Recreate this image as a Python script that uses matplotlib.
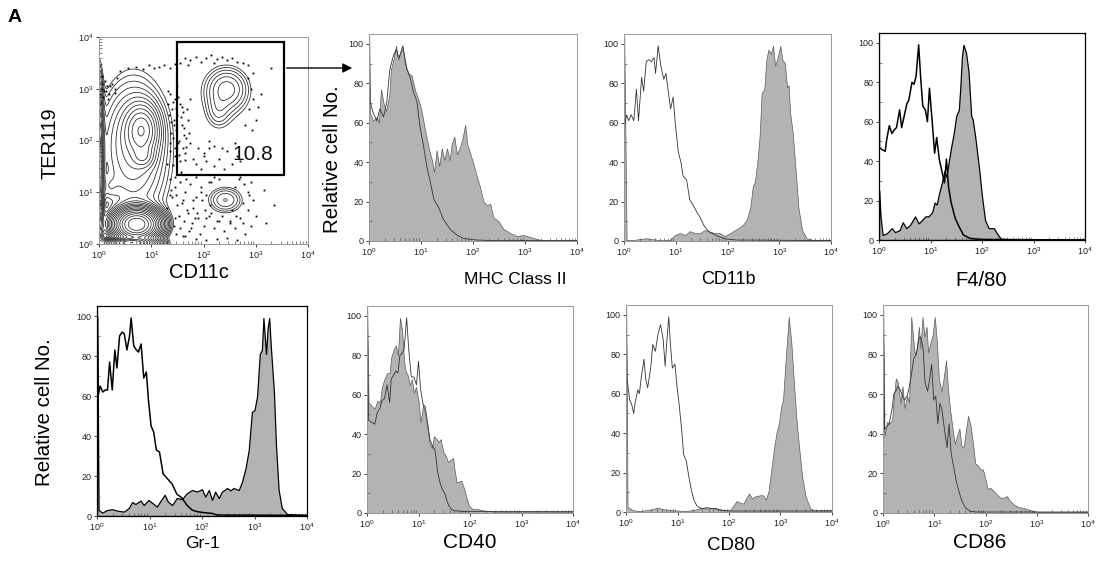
import numpy as np
import matplotlib.pyplot as plt
from matplotlib.patches import Rectangle
from matplotlib.ticker import LogLocator, LogFormatterSciNotation, MultipleLocator, NullFormatter

plt.rcParams['font.family'] = ['Liberation Sans', 'DejaVu Sans']

W, H = 1101, 569

# ---- histogram data: log10 intensity and relative cell number ----
mhc_fill_logx = [0.0, 0.005, 0.02, 0.08, 0.15, 0.19, 0.23, 0.28, 0.33, 0.39, 0.42, 0.47, 0.52, 0.56, 0.61,
                 0.65, 0.69, 0.76, 0.82, 0.89, 0.95, 1.01, 1.08, 1.14, 1.21, 1.25, 1.30, 1.35, 1.40, 1.45,
                 1.50, 1.55, 1.59, 1.64, 1.69, 1.74, 1.79, 1.85, 1.89, 1.95, 2.01, 2.07, 2.14, 2.20, 2.27,
                 2.33, 2.39, 2.49, 2.59, 2.72, 2.84, 2.97, 3.10, 3.23, 3.36, 4.0]
mhc_fill_y = [0, 104, 65, 61, 63, 60, 77, 70, 66, 74, 87, 92, 99, 92, 96,
              98, 90, 85, 84, 76, 72, 66, 56, 48, 41, 35, 46, 38, 47, 41,
              47, 41, 49, 53, 44, 47, 51, 59, 49, 44, 39, 33, 27, 20, 18,
              19, 12, 10, 6, 4, 2.5, 3, 2, 1, 0.3, 0.3]
mhc_line_logx = [0.0, 0.005, 0.02, 0.08, 0.15, 0.21, 0.28, 0.34, 0.40, 0.47, 0.52, 0.58, 0.65, 0.73, 0.79,
                 0.86, 0.92, 0.98, 1.05, 1.11, 1.17, 1.25, 1.34, 1.43, 1.56, 1.69, 1.82, 2.07, 2.4, 4.0]
mhc_line_y = [0, 104, 71, 65, 61, 67, 63, 70, 87, 94, 97, 93, 99, 87, 83,
              75, 71, 58, 48, 38, 31, 21, 17, 11, 6, 3, 1.3, 0.5, 0.2, 0.2]

cd11b_fill_logx = [0.0, 0.005, 0.05, 0.17, 0.43, 0.53, 0.69, 0.88, 0.98, 1.08, 1.18, 1.27, 1.37, 1.47, 1.56,
                   1.66, 1.76, 1.85, 1.95, 2.05, 2.15, 2.24, 2.31, 2.37, 2.44, 2.49, 2.53, 2.58, 2.62, 2.66,
                   2.71, 2.75, 2.79, 2.84, 2.88, 2.92, 2.97, 3.02, 3.06, 3.11, 3.15, 3.18, 3.21, 3.26, 3.31,
                   3.37, 3.44, 3.53, 3.66, 4.0]
cd11b_fill_y = [0, 104, 0.5, 0.5, 1.4, 1, 0.5, 0.5, 3, 4, 3, 5, 4, 4, 5.6,
                4.7, 4, 4, 2.5, 4, 5.6, 7, 8.6, 10.7, 17, 28, 30, 41, 53, 75,
                77, 92, 97, 95, 99, 89, 93, 99, 92, 90, 78, 79, 65, 55, 38,
                17, 5.6, 1.4, 0.5, 0.5]
cd11b_line_logx = [0.0, 0.005, 0.01, 0.05, 0.09, 0.14, 0.19, 0.24, 0.28, 0.34, 0.38, 0.43, 0.48, 0.53, 0.58,
                   0.61, 0.66, 0.71, 0.77, 0.81, 0.85, 0.90, 0.95, 0.99, 1.05, 1.10, 1.14, 1.21, 1.27, 1.34,
                   1.40, 1.47, 1.54, 1.63, 1.73, 1.85, 1.98, 2.18, 4.0]
cd11b_line_y = [0, 60, 58, 64, 61, 64, 61, 77, 61, 83, 76, 91, 92, 91, 93,
                85, 99, 89, 82, 85, 77, 67, 73, 60, 45, 40, 33, 31, 21, 18,
                15, 12, 8, 5, 3.4, 2, 1, 0.5, 0.2]

f480_fill_logx = [0.0, 0.005, 0.03, 0.07, 0.15, 0.25, 0.31, 0.40, 0.46, 0.53, 0.60, 0.70, 0.77, 0.83, 0.90,
                  0.96, 1.03, 1.08, 1.12, 1.17, 1.22, 1.27, 1.31, 1.35, 1.40, 1.45, 1.50, 1.55, 1.58, 1.61,
                  1.64, 1.69, 1.74, 1.79, 1.82, 1.87, 1.94, 2.00, 2.06, 2.13, 2.23, 2.29, 2.36, 2.49, 4.0]
f480_fill_y = [0, 25, 12, 2.5, 3.4, 6, 4, 5, 9, 6, 7.6, 12, 8.4, 10, 12,
               12, 14, 19, 18, 24, 29, 35, 32, 39, 47, 54, 63, 66, 78, 93,
               99, 95, 85, 63, 61, 52, 37, 22, 10, 6, 6, 3.4, 0.8, 0.3, 0.3]
f480_line_logx = [0.0, 0.005, 0.01, 0.05, 0.12, 0.15, 0.20, 0.25, 0.30, 0.34, 0.40, 0.44, 0.49, 0.54, 0.58,
                  0.64, 0.68, 0.72, 0.77, 0.81, 0.85, 0.90, 0.94, 0.98, 1.03, 1.08, 1.12, 1.17, 1.22, 1.27,
                  1.31, 1.35, 1.40, 1.48, 1.55, 1.64, 1.77, 1.97, 4.0]
f480_line_y = [0, 104, 47, 46, 45, 51, 58, 54, 56, 57, 66, 57, 63, 69, 71,
               80, 79, 83, 99, 82, 68, 66, 60, 77, 61, 44, 52, 41, 35, 29,
               41, 27, 19, 11, 7, 2.5, 0.8, 0.3, 0]

gr1_fill_logx = [0.0, 0.005, 0.03, 0.10, 0.19, 0.29, 0.38, 0.51, 0.60, 0.67, 0.73, 0.83, 0.89, 0.98, 1.06,
                 1.14, 1.22, 1.29, 1.35, 1.43, 1.52, 1.62, 1.71, 1.81, 1.90, 2.00, 2.06, 2.13, 2.19, 2.25,
                 2.32, 2.38, 2.48, 2.54, 2.60, 2.70, 2.76, 2.83, 2.89, 2.95, 3.00, 3.05, 3.10, 3.14, 3.17,
                 3.22, 3.25, 3.28, 3.31, 3.37, 3.41, 3.46, 3.52, 3.62, 4.0]
gr1_fill_y = [0, 100, 3, 1.7, 3, 3.4, 2.7, 2.2, 3.9, 7, 6, 7.7, 5.5, 8, 6.4,
              4.7, 8, 10.6, 7.2, 5.5, 9, 8.4, 11.4, 13, 12.2, 13.4, 9.7, 13, 8, 12.2,
              9, 12.2, 14, 12.8, 14, 13, 17, 24, 33, 52, 53, 60, 81, 83, 99,
              81, 94, 99, 85, 62, 35, 13, 4, 1, 0.5]
gr1_line_logx = [0.0, 0.005, 0.02, 0.06, 0.11, 0.16, 0.20, 0.24, 0.29, 0.34, 0.38, 0.43, 0.48, 0.52, 0.57,
                 0.62, 0.65, 0.70, 0.75, 0.79, 0.84, 0.89, 0.94, 0.98, 1.03, 1.08, 1.13, 1.19, 1.26, 1.33,
                 1.43, 1.52, 1.62, 1.71, 1.81, 1.90, 2.03, 2.19, 2.29, 4.0]
gr1_line_y = [0, 104, 60, 65, 62, 63, 63, 77, 63, 83, 74, 90, 92, 91, 83,
              90, 99, 85, 83, 82, 86, 69, 72, 58, 45, 42, 33, 32, 21, 19,
              16, 11, 9, 5.5, 3, 2.2, 1.7, 1.3, 0.5, 0.3]

cd40_fill_logx = [0.0, 0.005, 0.03, 0.10, 0.15, 0.20, 0.25, 0.29, 0.34, 0.39, 0.44, 0.47, 0.52, 0.56, 0.60,
                  0.64, 0.68, 0.72, 0.75, 0.79, 0.83, 0.87, 0.91, 0.95, 1.00, 1.04, 1.09, 1.13, 1.17, 1.22,
                  1.26, 1.30, 1.35, 1.39, 1.43, 1.48, 1.53, 1.57, 1.63, 1.67, 1.70, 1.74, 1.79, 1.83, 1.89,
                  1.93, 1.98, 2.05, 2.15, 2.28, 2.47, 4.0]
cd40_fill_y = [0, 104, 56, 54, 53, 57, 56, 64, 68, 71, 71, 79, 83, 85, 80,
               99, 93, 77, 72, 70, 65, 68, 61, 64, 57, 46, 55, 50, 44, 35,
               33, 39, 37.5, 36, 37.5, 31, 29, 26, 27, 28, 22, 15.5, 16, 16.4, 12,
               8, 3.7, 2, 2, 1.2, 0.7, 0.7]
cd40_line_logx = [0.0, 0.005, 0.03, 0.10, 0.15, 0.20, 0.25, 0.29, 0.34, 0.39, 0.44, 0.47, 0.52, 0.56, 0.60,
                  0.64, 0.68, 0.72, 0.77, 0.81, 0.86, 0.91, 0.96, 1.00, 1.04, 1.09, 1.13, 1.17, 1.22, 1.27,
                  1.32, 1.37, 1.41, 1.46, 1.51, 1.56, 1.63, 1.69, 1.89, 4.0]
cd40_line_y = [0, 104, 47, 46, 45, 51, 53, 57, 58, 65, 56, 68, 70, 72, 71,
               80, 81, 83, 99, 83, 69, 69, 65, 77, 63, 55, 54, 47, 37.5, 34,
               32, 21, 16, 12, 10, 5.4, 2, 1.2, 0.7, 0.7]

cd80_fill_logx = [0.0, 0.005, 0.03, 0.13, 0.26, 0.39, 0.52, 0.62, 0.72, 0.91, 1.17, 1.34, 1.47, 1.57, 1.66,
                  1.76, 1.89, 2.02, 2.09, 2.15, 2.22, 2.28, 2.35, 2.39, 2.45, 2.51, 2.61, 2.66, 2.72, 2.77,
                  2.82, 2.87, 2.92, 2.97, 3.01, 3.05, 3.10, 3.13, 3.16, 3.21, 3.26, 3.31, 3.36, 3.42, 3.49,
                  3.58, 3.65, 4.0]
cd80_fill_y = [0, 104, 2.5, 0.9, 0.5, 0.9, 1.5, 2.2, 1.4, 0.9, 0.5, 1.2, 2.2, 1.7, 2.2,
               1.4, 0.9, 0.9, 3.4, 5.6, 4.6, 4.3, 7.7, 9.4, 6.8, 8, 8.5, 8.5, 6.3, 11,
               21, 31.5, 40, 45, 53, 57, 77.5, 88, 99, 86, 65.6, 47, 33, 18, 7.7,
               1.7, 0.9, 0.9]
cd80_line_logx = [0.0, 0.005, 0.02, 0.07, 0.11, 0.15, 0.18, 0.23, 0.26, 0.30, 0.35, 0.38, 0.42, 0.48, 0.52,
                  0.57, 0.62, 0.67, 0.72, 0.76, 0.80, 0.83, 0.86, 0.90, 0.95, 0.99, 1.03, 1.08, 1.12, 1.17,
                  1.22, 1.27, 1.32, 1.38, 1.47, 1.57, 1.66, 1.76, 1.86, 2.02, 4.0]
cd80_line_y = [0, 104, 68, 57, 54.5, 50, 56, 62, 60, 69, 77.5, 68, 63, 73, 85,
               81.5, 90, 95, 88, 74, 89, 99, 86, 73, 75, 64, 55, 42, 29, 26,
               18, 11, 6, 3, 1.7, 2.2, 1.7, 1.7, 0.9, 0.5, 0.5]

cd86_fill_logx = [0.0, 0.005, 0.03, 0.08, 0.12, 0.18, 0.21, 0.25, 0.29, 0.34, 0.38, 0.42, 0.47, 0.51, 0.55,
                  0.59, 0.62, 0.66, 0.70, 0.73, 0.77, 0.81, 0.85, 0.88, 0.92, 0.97, 1.01, 1.05, 1.09, 1.14,
                  1.18, 1.23, 1.27, 1.31, 1.36, 1.40, 1.44, 1.49, 1.53, 1.57, 1.62, 1.66, 1.71, 1.76, 1.80,
                  1.85, 1.90, 1.95, 2.00, 2.04, 2.09, 2.16, 2.22, 2.29, 2.35, 2.42, 2.48, 2.55, 2.65, 2.74,
                  2.84, 2.94, 3.07, 4.0]
cd86_fill_y = [0, 104, 39, 46, 45, 47, 58, 68, 66, 55.5, 64, 53, 59, 56, 99,
               88, 80, 83, 94, 83, 99, 89, 94, 81, 85.5, 90, 99, 87, 67.5, 61.5,
               67.5, 77, 62, 52, 42, 35, 38.5, 42.7, 34, 33, 42, 49, 44, 34, 25,
               24, 22, 22, 17, 12, 12.8, 11, 9.4, 7.7, 7.7, 8.5, 6, 4.3, 2.9, 2.6,
               1.7, 0.9, 0.5, 0.5]
cd86_line_logx = [0.0, 0.005, 0.03, 0.08, 0.12, 0.18, 0.21, 0.25, 0.29, 0.34, 0.38, 0.42, 0.47, 0.51, 0.55,
                  0.60, 0.65, 0.70, 0.73, 0.78, 0.82, 0.87, 0.91, 0.95, 0.99, 1.03, 1.07, 1.11, 1.15, 1.19,
                  1.25, 1.29, 1.33, 1.38, 1.43, 1.48, 1.54, 1.61, 1.70, 1.83, 4.0]
cd86_line_y = [0, 104, 42, 44, 45, 53, 60, 61.5, 64, 62, 59, 57, 59, 63, 69,
               78, 80, 88, 89, 84, 66, 61.5, 67.5, 75, 57, 59, 45, 55.5, 52, 44,
               33, 45, 30, 23, 16, 11, 6, 2.6, 0.9, 0.5, 0.5]

hist_labels = ['MHC Class II', 'CD11b', 'F4/80', 'Gr-1', 'CD40', 'CD80', 'CD86']

# ---- CD11c / TER119 contour plot: population centres (log10 units) ----
pop_logx = [0.72, 0.62, 0.82, 0.85, 0.60, 0.00, 0.18, 0.75, 2.45, 2.28, 2.40, 2.42]
pop_logy = [0.38, 0.02, 2.20, 1.68, 1.90, 1.50, 1.10, 1.70, 3.00, 2.55, 2.80, 0.85]
pop_sx = [0.22, 0.24, 0.18, 0.12, 0.35, 0.05, 0.12, 0.45, 0.24, 0.14, 0.40, 0.22]
pop_sy = [0.16, 0.05, 0.28, 0.12, 0.70, 0.85, 0.15, 1.00, 0.24, 0.20, 0.50, 0.17]
pop_peak = [100, 70, 12, 4, 4, 15, 1.5, 2.0, 3, 1.2, 1.0, 2.6]

dot_logx = [0.05, 0.10, 0.15, 0.20, 0.08, 0.25, 0.30, 0.12, 0.40, 0.55, 0.70, 0.85, 0.95, 1.05, 1.15,
            1.25, 1.35, 1.45, 0.05, 1.55, 1.65, 1.75, 1.85, 1.95, 2.05, 2.15, 2.25, 2.35, 2.45, 2.55,
            2.65, 2.75, 2.85, 1.70, 2.20, 3.30, 2.85, 2.90, 2.95, 2.88, 3.00, 2.92, 3.05, 2.80, 3.10,
            2.95, 1.35, 1.45, 1.55, 1.40, 1.50, 1.60, 1.38, 1.48, 1.58, 1.42, 1.52, 1.62, 1.35, 1.45,
            1.55, 1.65, 1.30, 1.70, 1.75, 1.85, 1.95, 2.05, 2.20, 2.30, 2.40, 2.55, 2.65, 2.10, 2.00,
            1.35, 1.45, 1.55, 1.65, 1.75, 1.85, 1.95, 1.40, 1.50, 1.60, 1.70, 1.80, 1.90, 2.00, 2.10,
            2.20, 2.30, 2.40, 2.50, 2.60, 2.70, 2.80, 2.90, 3.00, 2.75, 2.85, 2.90, 2.70, 3.15, 3.35,
            3.20, 1.55, 1.65, 1.85, 2.05, 2.25, 2.45, 2.65, 1.45, 1.30, 2.05, 2.15, 2.60, 2.55,
            1.32, 1.41, 1.47, 1.56, 1.63, 1.37, 1.44, 1.53, 1.61, 1.68, 1.34, 1.43, 1.51, 1.59, 1.66,
            1.36, 1.46, 1.54, 1.64, 1.72, 1.33, 1.42, 1.57, 1.67, 1.49,
            1.38, 1.48, 1.58, 1.68, 1.78, 1.88, 1.98, 1.43, 1.53, 1.63, 1.73, 1.83, 1.93, 2.03, 1.36,
            1.46, 1.56, 1.66, 1.76, 1.86, 1.96, 2.12, 1.47, 1.61, 1.79,
            2.05, 2.15, 2.25, 2.35, 2.50, 2.62, 2.75, 2.85, 2.95, 2.10, 2.20, 2.68, 2.78, 2.88, 2.30,
            1.75, 1.90, 2.10, 2.35, 2.60, 1.80, 2.00, 2.45, 2.70, 2.20,
            0.02, 0.06, 0.14, 0.22, 0.30, 0.04, 0.18, 0.35]
dot_logy = [3.00, 2.95, 3.05, 2.90, 2.85, 3.10, 3.00, 3.15, 3.35, 3.40, 3.42, 3.38, 3.45, 3.40, 3.42,
            3.45, 3.40, 3.48, 3.25, 3.50, 3.60, 3.55, 3.62, 3.52, 3.60, 3.65, 3.58, 3.62, 3.55, 3.60,
            3.52, 3.50, 3.45, 3.45, 3.50, 3.40, 3.20, 3.00, 2.80, 2.60, 2.40, 2.20, 2.65, 2.30, 2.90,
            3.30, 2.90, 2.80, 2.70, 2.60, 2.50, 2.55, 2.35, 2.20, 2.30, 2.05, 1.95, 2.10, 1.80, 1.70,
            1.60, 1.75, 1.55, 2.40, 2.80, 1.55, 1.45, 1.60, 1.50, 1.65, 1.45, 1.55, 1.70, 1.85, 1.75,
            1.25, 1.10, 1.20, 1.00, 1.15, 1.30, 1.10, 0.90, 0.75, 0.85, 0.60, 0.70, 0.50, 0.35, 0.55,
            0.30, 0.45, 0.25, 0.40, 0.30, 0.50, 0.20, 0.35, 0.55, 0.80, 1.00, 1.20, 1.30, 1.05, 0.75,
            0.40, 0.30, 0.15, 0.10, 0.08, 0.10, 0.12, 0.08, 0.50, 0.70, 0.95, 1.20, 1.10, 0.65,
            2.95, 2.75, 2.62, 2.45, 2.25, 2.15, 2.40, 2.00, 1.85, 2.60, 2.50, 2.30, 2.85, 2.65, 2.05,
            1.95, 1.85, 1.72, 1.62, 2.15, 2.70, 1.52, 1.40, 1.88, 3.05,
            1.05, 0.95, 0.80, 0.65, 0.40, 0.60, 0.85, 0.35, 0.55, 0.45, 0.25, 0.50, 0.20, 0.65, 0.95,
            1.30, 1.35, 1.25, 0.30, 0.90, 1.00, 0.75, 0.20, 0.15, 0.85,
            0.50, 0.60, 0.45, 0.55, 0.45, 0.55, 0.40, 0.65, 0.85, 1.20, 1.30, 1.25, 1.15, 0.95, 1.25,
            1.95, 1.85, 2.00, 1.85, 1.95, 1.65, 1.70, 1.80, 1.60, 1.90,
            2.90, 3.10, 2.95, 3.05, 2.92, 2.75, 2.80, 3.20]

gate_logx = (1.49, 3.54)
gate_logy = (1.33, 3.90)
gate_pct = '10.8'


def rect(l, t, r, b):
    return [l / W, 1 - b / H, (r - l) / W, (b - t) / H]


def style_axes(ax, frame, log_y=False):
    ax.set_xscale('log')
    ax.set_xlim(1, 1e4)
    ax.xaxis.set_major_locator(LogLocator(base=10, numticks=6))
    ax.xaxis.set_major_formatter(LogFormatterSciNotation())
    ax.xaxis.set_minor_locator(LogLocator(base=10, subs=np.arange(2, 10), numticks=12))
    ax.xaxis.set_minor_formatter(NullFormatter())
    if log_y:
        ax.set_yscale('log')
        ax.set_ylim(1, 1e4)
        ax.yaxis.set_major_locator(LogLocator(base=10, numticks=6))
        ax.yaxis.set_major_formatter(LogFormatterSciNotation())
        ax.yaxis.set_minor_locator(LogLocator(base=10, subs=np.arange(2, 10), numticks=12))
        ax.yaxis.set_minor_formatter(NullFormatter())
    else:
        ax.set_ylim(0, 105)
        ax.yaxis.set_major_locator(MultipleLocator(20))
        ax.yaxis.set_minor_locator(MultipleLocator(10))
    ax.tick_params(which='major', direction='out', length=2.5, width=0.6, labelsize=6.5,
                   colors='#222222', pad=1.5)
    ax.tick_params(which='minor', direction='in', length=2, width=0.5, colors='#555555')
    for s in ax.spines.values():
        s.set_color(frame)
        s.set_linewidth(0.9 if frame == 'black' else 0.7)


fig = plt.figure(figsize=(W / 100, H / 100), dpi=100)
fig.text(8 / W, 1 - 17 / H, 'A', fontsize=14, fontweight='bold', va='center', ha='left')

# ---- contour panel ----
ax = fig.add_axes(rect(99, 37, 308, 244))
style_axes(ax, '#999999', log_y=True)
gx = np.linspace(0, 4, 300)
gy = np.linspace(0, 4, 300)
GX, GY = np.meshgrid(gx, gy)
dens = np.zeros_like(GX)
for mx, my, sx, sy, pk in zip(pop_logx, pop_logy, pop_sx, pop_sy, pop_peak):
    dens += pk * np.exp(-0.5 * ((GX - mx) / sx) ** 2 - 0.5 * ((GY - my) / sy) ** 2)
levels = 0.9 * 1.3 ** np.arange(0, 24)
ax.contour(10 ** GX, 10 ** GY, dens, levels=levels, colors='#222222', linewidths=0.55)
ax.plot(10 ** np.array(dot_logx), 10 ** np.array(dot_logy), 's', color='black', markersize=1.3,
        markeredgewidth=0)
ax.add_patch(Rectangle((10 ** gate_logx[0], 10 ** gate_logy[0]),
                       10 ** gate_logx[1] - 10 ** gate_logx[0], 10 ** gate_logy[1] - 10 ** gate_logy[0],
                       fill=False, edgecolor='black', linewidth=1.6, zorder=5))
ax.text(10 ** 2.95, 10 ** 1.72, gate_pct, fontsize=15, ha='center', va='center', color='#111111')
ax.annotate('', xy=(355 / W, 1 - 68 / H), xycoords='figure fraction',
            xytext=(284 / W, 1 - 68 / H), textcoords='figure fraction',
            arrowprops=dict(arrowstyle='-|>', color='black', lw=1.0, mutation_scale=14))
fig.text(199 / W, 1 - 272 / H, 'CD11c', fontsize=14.5, ha='center', va='center')
fig.text(50 / W, 1 - 143 / H, 'TER119', fontsize=14.3, ha='center', va='center', rotation=90)

# ---- histograms ----
panels = [
    (rect(369, 34, 577, 241), mhc_fill_logx, mhc_fill_y, mhc_line_logx, mhc_line_y, False, (515, 280), 12.5),
    (rect(624, 34, 831, 241), cd11b_fill_logx, cd11b_fill_y, cd11b_line_logx, cd11b_line_y, False, (728, 280), 13),
    (rect(879, 33, 1085, 240), f480_fill_logx, f480_fill_y, f480_line_logx, f480_line_y, True, (981, 281), 14.5),
    (rect(97, 306, 307, 516), gr1_fill_logx, gr1_fill_y, gr1_line_logx, gr1_line_y, True, (203, 543), 12.5),
    (rect(367, 306, 573, 513), cd40_fill_logx, cd40_fill_y, cd40_line_logx, cd40_line_y, False, (470, 543), 15),
    (rect(626, 305, 832, 512), cd80_fill_logx, cd80_fill_y, cd80_line_logx, cd80_line_y, False, (731, 545), 13.5),
    (rect(883, 305, 1088, 513), cd86_fill_logx, cd86_fill_y, cd86_line_logx, cd86_line_y, False, (980, 542), 15),
]

for (pos, fx, fy, lx, ly, bold, lab_xy, lab_fs), label in zip(panels, hist_labels):
    ax = fig.add_axes(pos)
    style_axes(ax, 'black' if bold else '#999999')
    edge = 'black' if bold else '#555555'
    lw = 1.1 if bold else 0.6
    ax.fill_between(10 ** np.array(fx), fy, 0, facecolor='#b3b3b3', edgecolor=edge, linewidth=lw * 0.8)
    ax.plot(10 ** np.array(lx), ly, color='black' if bold else '#333333', linewidth=lw)
    fig.text(lab_xy[0] / W, 1 - lab_xy[1] / H, label, fontsize=lab_fs, ha='center', va='center')

fig.text(332 / W, 1 - 159 / H, 'Relative cell No.', fontsize=14.8, ha='center', va='center', rotation=90)
fig.text(45 / W, 1 - 412 / H, 'Relative cell No.', fontsize=14.8, ha='center', va='center', rotation=90)

fig.savefig('out.png', dpi=100)
